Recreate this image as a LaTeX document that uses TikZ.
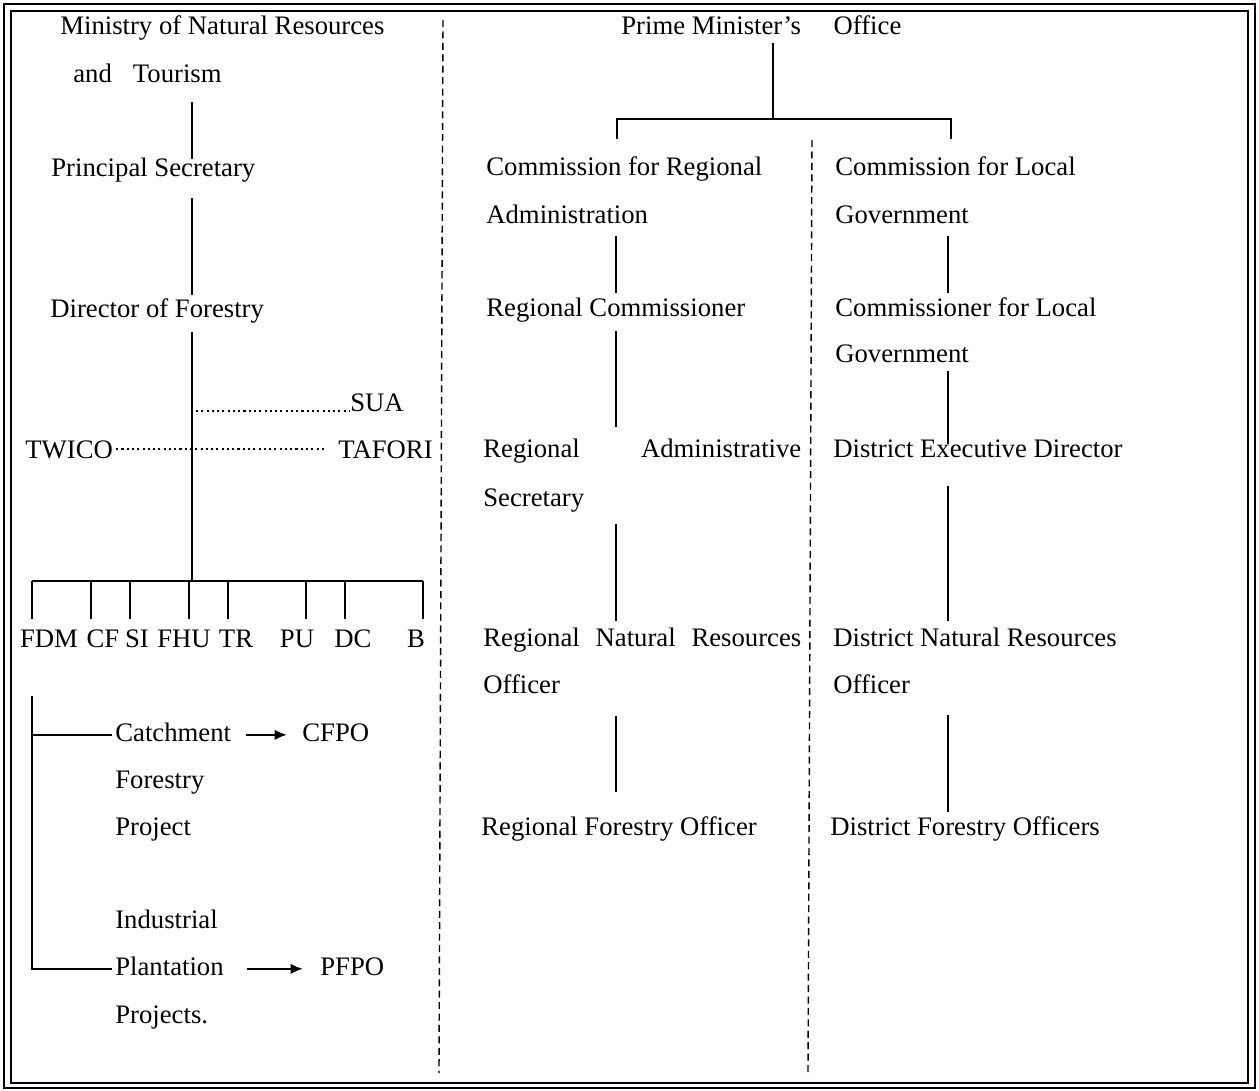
\documentclass[tikz,border=0pt]{standalone}
\usepackage{fontspec}
\setmainfont{Liberation Serif}
\usetikzlibrary{arrows.meta, calc}

\begin{document}
\begin{tikzpicture}[x=0.02cm, y=-0.02cm]
    % Define styles
    \tikzstyle{lbl} = [inner sep=0pt, anchor=base west, text height=10pt, text depth=3pt, font=\fontsize{15.2}{18}\selectfont]
    \tikzstyle{link} = [line width=1.5pt]
    \tikzstyle{divider} = [line width=0.8pt, dash pattern=on 4pt off 2.5pt]
    \tikzstyle{liaison} = [line width=1.3pt, dash pattern=on 1.2pt off 1.8pt]
    \tikzstyle{flow} = [line width=1.4pt, -{Latex[length=7pt, width=6pt]}]

    \useasboundingbox (0,0) rectangle (1259,1091);
    % Frame
    \draw[line width=1pt] (4,4) rectangle (1255,1088);
    \draw[line width=0.7pt] (11,11) rectangle (1248,1083);

    % Dividers
    \coordinate (divAtop) at (443,20);
    \coordinate (divAbot) at (439,1073);
    \coordinate (divBtop) at (812,140);
    \coordinate (divBbot) at (808,1075);
    \draw[divider] (divAtop) -- (divAbot);
    \draw[divider] (divBtop) -- (divBbot);

    % Ministry side
    \node[lbl] (ministry) at (60,35) {Ministry of Natural Resources};
    \node[lbl] (tour) at (73,83) {and\hspace{12pt}Tourism};
    \node[lbl] (ps) at (51,177) {Principal Secretary};
    \node[lbl] (df) at (50,318) {Director of Forestry};
    \node[lbl] (sua) at (350,412) {SUA};
    \node[lbl] (twico) at (25,459) {TWICO};
    \node[lbl] (tafori) at (338,459) {TAFORI};
    \coordinate (trunk) at (192,581);

    \draw[link] ($(trunk |- tour.south)+(0,13)$) -- (trunk |- ps.north);
    \draw[link] ($(trunk |- ps.south)+(0,15)$) -- ($(trunk |- df.north)+(0,-5)$);
    \draw[link] ($(trunk |- df.south)+(0,8)$) -- (trunk);
    \draw[liaison] ($(trunk |- sua.base)+(4,-1)$) -- ($(sua.base west)+(0,-1)$);
    \draw[liaison] ($(twico.east)+(3,-4)$) -- ($(tafori.west)+(-13,-4)$);

    % Units
    \foreach \n/\c/\t in {FDM/49/32, CF/103/91, SI/137/130, FHU/184/189, TR/236/228, PU/297/306, DC/353/345, B/416/423} {
        \node[lbl, anchor=base] (\n) at (\c,647) {\n};
        \coordinate (t\n) at (\t,581);
        \draw[link] (t\n) -- ($(t\n |- \n.north)+(0,-10)$);
    }
    \draw[link] (tFDM) -- (tB);

    % Projects
    \node[lbl] (catch) at (115,741) {Catchment};
    \node[lbl] (cfpo) at (302,741) {CFPO};
    \node[lbl] (forestry) at (115,788) {Forestry};
    \node[lbl] (project) at (115,835) {Project};
    \node[lbl] (indus) at (115,928) {Industrial};
    \node[lbl] (plant) at (115,975) {Plantation};
    \node[lbl] (pfpo) at (320,975) {PFPO};
    \node[lbl] (projects) at (115,1023) {Projects.};

    \draw[link] ($(tFDM |- FDM.south)+(0,43)$) |- ($(plant.west)+(-3,0)$);
    \draw[link] (tFDM |- catch.west) -- ($(catch.west)+(-3,0)$);
    \draw[flow] ($(catch.east)+(15,0)$) -- ($(cfpo.west)+(-15,0)$);
    \draw[flow] ($(plant.east)+(23,0)$) -- ($(pfpo.west)+(-17,0)$);

    % Prime Minister's side
    \node[lbl] (pmo) at (621,35) {Prime Minister's\hspace{18.5pt}Office};
    \coordinate (pmoj) at (773,119);
    \coordinate (craj) at (617,119);
    \coordinate (clgj) at (951,119);
    \coordinate (rcol) at (616,0);
    \coordinate (dcol) at (948,0);

    \node[lbl] (cra) at (486,176) {Commission for Regional};
    \node[lbl] (adm) at (486,224) {Administration};
    \node[lbl] (rc) at (486,317) {Regional Commissioner};
    \node[lbl, text width=6.36cm, align=left] (ras) at (483,458) {Regional\hfill Administrative};
    \node[lbl] (sec) at (483,506) {Secretary};
    \node[lbl, text width=6.36cm, align=left] (rnr) at (483,646) {Regional\hfill Natural\hfill Resources};
    \node[lbl] (roff) at (483,693) {Officer};
    \node[lbl] (rfo) at (481,835) {Regional Forestry Officer};

    \node[lbl] (clg) at (835,176) {Commission for Local};
    \node[lbl] (gov) at (835,224) {Government};
    \node[lbl] (cfl) at (835,317) {Commissioner for Local};
    \node[lbl] (gov2) at (835,363) {Government};
    \node[lbl] (ded) at (833,458) {District Executive Director};
    \node[lbl] (dnr) at (833,646) {District Natural Resources};
    \node[lbl] (doff) at (833,693) {Officer};
    \node[lbl] (dfo) at (830,835) {District Forestry Officers};

    \draw[link] ($(pmoj |- pmo.south)+(0,2)$) -- (pmoj);
    \draw[link] ($(craj |- cra.north)+(0,-19)$) -- (craj) -- (clgj) -- ($(clgj |- clg.north)+(0,-19)$);

    \draw[link] ($(rcol |- adm.south)+(0,6)$) -- ($(rcol |- rc.north)+(0,-6)$);
    \draw[link] ($(rcol |- rc.south)+(0,8)$) -- ($(rcol |- ras.north)+(0,-13)$);
    \draw[link] ($(rcol |- sec.south)+(0,12)$) -- ($(rcol |- rnr.north)+(0,-7)$);
    \draw[link] ($(rcol |- roff.south)+(0,17)$) -- ($(rcol |- rfo.north)+(0,-25)$);

    \draw[link] ($(dcol |- gov.south)+(0,6)$) -- ($(dcol |- cfl.north)+(0,-6)$);
    \draw[link] ($(dcol |- gov2.south)+(0,2)$) -- ($(dcol |- ded.north)+(0,4)$);
    \draw[link] ($(dcol |- ded.south)+(0,22)$) -- ($(dcol |- dnr.north)+(0,-7)$);
    \draw[link] ($(dcol |- doff.south)+(0,16)$) -- ($(dcol |- dfo.north)+(0,-5)$);
\end{tikzpicture}
\end{document}
